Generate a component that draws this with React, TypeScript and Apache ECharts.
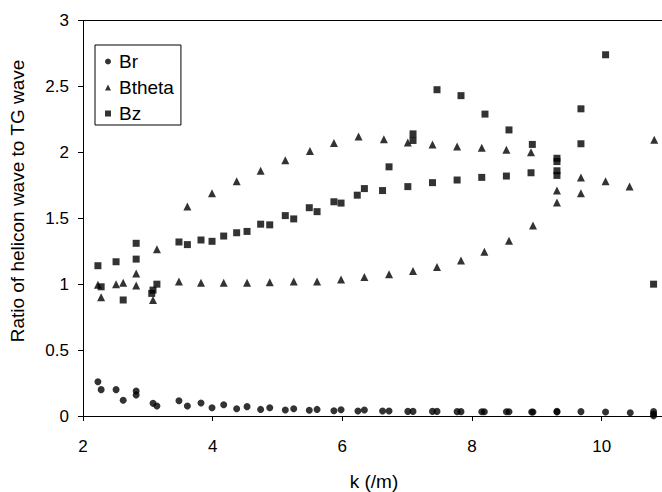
import React, { useEffect, useRef } from "react";
import * as echarts from "echarts";

// Wavenumber k (/m) and field-component ratios for each series
const brK = [2.23, 2.28, 2.51, 2.62, 2.82, 2.82, 3.08, 3.14, 3.48, 3.61, 3.82, 3.99, 4.17, 4.37, 4.53, 4.74, 4.88, 5.12, 5.25, 5.49, 5.61, 5.87, 5.98, 6.24, 6.34, 6.62, 6.72, 7.01, 7.09, 7.39, 7.46, 7.77, 7.83, 8.15, 8.19, 8.53, 8.57, 8.92, 8.94, 9.31, 9.31, 9.68, 10.06, 10.44, 10.8, 10.8, 10.8];
const brVals = [0.26, 0.2, 0.2, 0.12, 0.19, 0.16, 0.096, 0.076, 0.116, 0.076, 0.098, 0.063, 0.086, 0.055, 0.071, 0.05, 0.063, 0.045, 0.055, 0.043, 0.05, 0.04, 0.048, 0.038, 0.045, 0.038, 0.038, 0.035, 0.035, 0.035, 0.035, 0.033, 0.033, 0.032, 0.032, 0.032, 0.032, 0.03, 0.03, 0.035, 0.03, 0.033, 0.03, 0.025, 0.033, 0.015, 0.002];

const bthetaK = [2.23, 2.28, 2.51, 2.62, 2.82, 2.82, 3.08, 3.14, 3.48, 3.61, 3.82, 3.99, 4.17, 4.37, 4.53, 4.74, 4.88, 5.12, 5.25, 5.5, 5.61, 5.87, 5.98, 6.25, 6.34, 6.64, 6.72, 7.01, 7.09, 7.39, 7.46, 7.77, 7.83, 8.15, 8.19, 8.53, 8.57, 8.91, 8.94, 9.31, 9.31, 9.68, 9.68, 10.06, 10.43, 10.81];
const bthetaVals = [0.995, 0.9, 1.0, 1.01, 1.08, 0.99, 0.88, 1.265, 1.02, 1.59, 1.01, 1.69, 1.01, 1.78, 1.01, 1.86, 1.015, 1.94, 1.02, 2.01, 1.02, 2.07, 1.035, 2.12, 1.055, 2.1, 1.075, 2.075, 1.1, 2.06, 1.13, 2.045, 1.18, 2.035, 1.245, 2.02, 1.33, 2.0, 1.445, 1.71, 1.62, 1.81, 1.69, 1.78, 1.74, 2.095];

const bzK = [2.23, 2.28, 2.51, 2.62, 2.82, 2.82, 3.06, 3.08, 3.14, 3.48, 3.61, 3.82, 3.99, 4.17, 4.37, 4.53, 4.74, 4.88, 5.12, 5.25, 5.49, 5.61, 5.87, 5.98, 6.23, 6.34, 6.62, 6.72, 7.01, 7.09, 7.09, 7.39, 7.46, 7.77, 7.83, 8.15, 8.2, 8.53, 8.57, 8.91, 8.93, 9.31, 9.31, 9.31, 9.31, 9.68, 9.68, 10.06, 10.8];
const bzVals = [1.14, 0.98, 1.17, 0.88, 1.31, 1.19, 0.93, 0.955, 1.0, 1.32, 1.3, 1.335, 1.325, 1.365, 1.39, 1.4, 1.455, 1.45, 1.52, 1.495, 1.58, 1.55, 1.625, 1.615, 1.675, 1.725, 1.71, 1.89, 1.74, 2.14, 2.09, 1.77, 2.475, 1.79, 2.43, 1.81, 2.29, 1.82, 2.17, 1.845, 2.06, 1.955, 1.93, 1.86, 1.825, 2.33, 2.065, 2.74, 1.0];

const seriesNames = ["Br", "Btheta", "Bz"];
const xTicks = [2, 4, 6, 8, 10];

const FONT = "'Liberation Sans', Arial, Helvetica, sans-serif";

const zip = (k: number[], v: number[]) => k.map((x, i) => [x, v[i]]);

export default function App() {
  const ref = useRef<HTMLDivElement>(null);

  useEffect(() => {
    document.body.style.margin = "0";
    const chart = echarts.init(ref.current!, null, { renderer: "svg" });
    const axisLine = { show: true, onZero: false, lineStyle: { color: "#000", width: 1 } };
    const markerStyle = { color: "#000" };

    chart.setOption({
      animation: false,
      backgroundColor: "#fff",
      grid: { left: 83, right: 0, top: 20.5, bottom: 76 },
      xAxis: [
        {
          type: "value",
          min: 2,
          max: 10.93,
          interval: 2,
          position: "bottom",
          axisLine,
          axisTick: { show: true, length: 5, customValues: xTicks, lineStyle: { color: "#000" } },
          axisLabel: { customValues: xTicks, margin: 22, fontSize: 17, color: "#000", fontFamily: FONT },
          splitLine: { show: false },
        },
        {
          type: "value",
          min: 2,
          max: 10.93,
          position: "top",
          axisLine,
          axisTick: { show: false },
          axisLabel: { show: false },
          splitLine: { show: false },
        },
      ],
      yAxis: {
        type: "value",
        min: 0,
        max: 3,
        interval: 0.5,
        axisLine,
        axisTick: { show: true, length: 5, lineStyle: { color: "#000" } },
        axisLabel: { margin: 14, fontSize: 17, color: "#000", fontFamily: FONT },
        splitLine: { show: false },
      },
      legend: {
        orient: "vertical",
        left: 95,
        top: 45,
        data: seriesNames,
        borderColor: "#000",
        borderWidth: 1,
        borderRadius: 0,
        padding: [6, 7, 1, 10],
        itemGap: 5,
        itemWidth: 6,
        itemHeight: 6,
        textStyle: { fontSize: 19, lineHeight: 21, color: "#000", fontFamily: FONT, padding: [0, 0, 0, 3] },
      },
      graphic: [
        {
          type: "text",
          x: 17.5,
          y: 201,
          rotation: Math.PI / 2,
          style: {
            text: "Ratio of helicon wave to TG wave",
            font: `19px ${FONT}`,
            fill: "#000",
            align: "center",
            verticalAlign: "middle",
          },
        },
        {
          type: "text",
          x: 374,
          y: 481,
          style: {
            text: "k (/m)",
            font: `19px ${FONT}`,
            fill: "#000",
            align: "center",
            verticalAlign: "middle",
          },
        },
      ],
      series: [
        { name: "Br", type: "scatter", symbol: "circle", symbolSize: 7, itemStyle: markerStyle, data: zip(brK, brVals) },
        { name: "Btheta", type: "scatter", symbol: "triangle", symbolSize: 8, itemStyle: markerStyle, data: zip(bthetaK, bthetaVals) },
        { name: "Bz", type: "scatter", symbol: "rect", symbolSize: 7, itemStyle: markerStyle, data: zip(bzK, bzVals) },
      ],
    });

    return () => chart.dispose();
  }, []);

  return <div ref={ref} style={{ width: 662, height: 492 }} />;
}
